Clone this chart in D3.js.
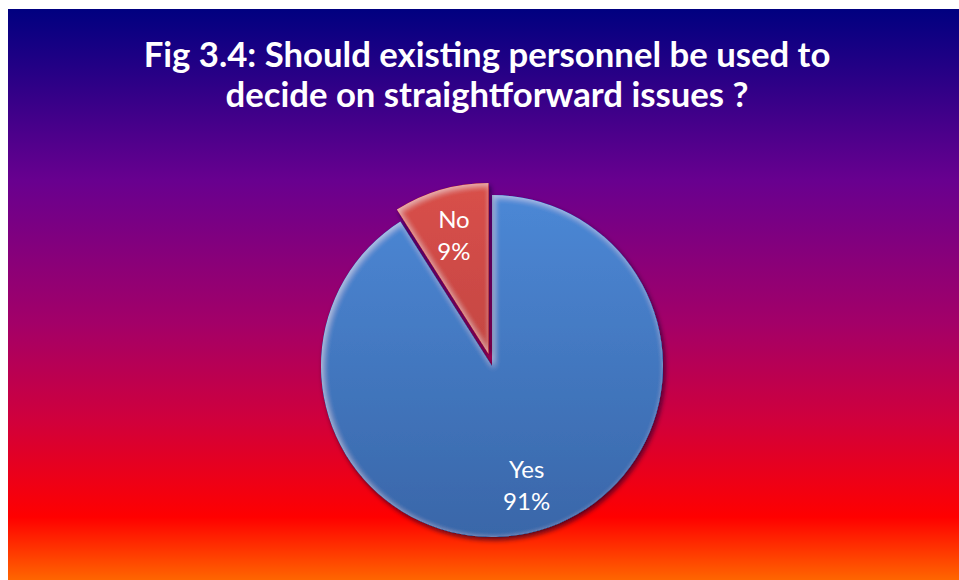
<!DOCTYPE html>
<html>
<head>
<meta charset="utf-8">
<script src="https://cdn.jsdelivr.net/npm/d3@7"></script>
<style>
  html, body { margin: 0; padding: 0; background: #ffffff; }
  svg { display: block; }
</style>
</head>
<body>
<div id="chart"></div>
<script>
// Survey answers
const categories = ["Yes", "No"];
const values = [91, 9];
const percentLabels = ["91%", "9%"];
const titleLines = [
  "Fig 3.4: Should existing personnel be used to",
  "decide on straightforward issues ?"
];

const W = 959, H = 580;
const svg = d3.select("#chart").append("svg")
  .attr("width", W).attr("height", H);

const defs = svg.append("defs");

// Background gradient: navy -> purple -> red -> orange
const bg = defs.append("linearGradient").attr("id", "bgGrad")
  .attr("x1", 0).attr("y1", 0).attr("x2", 0).attr("y2", 1);
[
  [0, "#000080"], [0.30, "#68008f"], [0.55, "#a30068"],
  [0.72, "#d0003c"], [0.89, "#ff0000"], [1, "#ff6600"]
].forEach(([o, c]) => bg.append("stop").attr("offset", o).attr("stop-color", c));

svg.append("rect")
  .attr("x", 8).attr("y", 9).attr("width", W - 8).attr("height", H - 9)
  .attr("fill", "url(#bgGrad)");

// Slice fills
const fills = {
  Yes: [["0", "#4c88d6"], ["1", "#3966a8"]],
  No: [["0", "#d9504b"], ["1", "#b03c39"]]
};
Object.entries(fills).forEach(([k, stops]) => {
  const g = defs.append("linearGradient").attr("id", "grad" + k)
    .attr("gradientUnits", "userSpaceOnUse")
    .attr("x1", 0).attr("y1", -175).attr("x2", 0).attr("y2", 175);
  stops.forEach(([o, c]) => g.append("stop").attr("offset", o).attr("stop-color", c));
});

// Soft shadow under each slice
const shadow = defs.append("filter").attr("id", "shadow")
  .attr("x", "-20%").attr("y", "-20%").attr("width", "140%").attr("height", "140%");
shadow.append("feDropShadow")
  .attr("dx", 2).attr("dy", 3).attr("stdDeviation", 2.5)
  .attr("flood-color", "#10002a").attr("flood-opacity", 0.7);

// Soft light rim along the inside of each slice edge
const bevel = defs.append("filter").attr("id", "bevel")
  .attr("x", "-10%").attr("y", "-10%").attr("width", "120%").attr("height", "120%");
bevel.append("feGaussianBlur").attr("in", "SourceAlpha").attr("stdDeviation", 3).attr("result", "blur");
bevel.append("feOffset").attr("in", "blur").attr("dx", 1.5).attr("dy", 2).attr("result", "blurOff");
bevel.append("feComposite").attr("in", "SourceAlpha").attr("in2", "blurOff")
  .attr("operator", "arithmetic").attr("k2", 1).attr("k3", -1).attr("result", "rim");
bevel.append("feFlood").attr("flood-color", "#ffffff").attr("flood-opacity", 0.45).attr("result", "white");
bevel.append("feComposite").attr("in", "white").attr("in2", "rim").attr("operator", "in").attr("result", "hl");
bevel.append("feComposite").attr("in", "hl").attr("in2", "SourceAlpha").attr("operator", "in").attr("result", "hlIn");
const merge = bevel.append("feMerge");
merge.append("feMergeNode").attr("in", "SourceGraphic");
merge.append("feMergeNode").attr("in", "hlIn");

// Title
const title = svg.append("g").attr("font-family", "Lato, 'Open Sans', sans-serif")
  .attr("font-weight", "bold").attr("fill", "#ffffff").attr("text-anchor", "middle");
const t1 = title.append("text").attr("x", 487).attr("y", 67)
  .attr("font-size", 32).text(titleLines[0]);
// size the title so the first line spans its slot
const natural = t1.node().getComputedTextLength();
const fs = 32 * 687 / natural;
t1.attr("font-size", fs);
title.append("text").attr("x", 487).attr("y", 107)
  .attr("font-size", fs).text(titleLines[1]);

// Pie
const cx = 492, cy = 366, r = 171, explode = 12.5;
const data = categories.map((c, i) => ({ cat: c, value: values[i], label: percentLabels[i] }));
const pie = d3.pie().sort(null).value(d => d.value);
const arcs = pie(data);
const arc = d3.arc().innerRadius(0).outerRadius(r);
const labelArc = d3.arc().innerRadius(124).outerRadius(124);

const g = svg.append("g").attr("transform", `translate(${cx},${cy})`);

const slices = g.selectAll("g.slice").data(arcs).join("g")
  .attr("class", "slice")
  .attr("transform", d => {
    if (d.data.cat !== "No") return null;
    const a = (d.startAngle + d.endAngle) / 2;
    return `translate(${Math.sin(a) * explode},${-Math.cos(a) * explode})`;
  });

slices.append("path")
  .attr("d", arc)
  .attr("fill", d => `url(#grad${d.data.cat})`)
  .attr("filter", "url(#shadow)");

slices.append("path")
  .attr("d", arc)
  .attr("fill", d => `url(#grad${d.data.cat})`)
  .attr("filter", "url(#bevel)");

slices.append("text")
  .attr("transform", d => {
    const [x, y] = labelArc.centroid(d);
    return `translate(${x},${y})`;
  })
  .attr("text-anchor", "middle")
  .attr("font-family", "Lato, 'Open Sans', sans-serif")
  .attr("font-size", 24)
  .attr("fill", "#ffffff")
  .selectAll("tspan")
  .data(d => [d.data.cat, d.data.label])
  .join("tspan")
  .attr("x", 0)
  .attr("y", (d, i) => i === 0 ? -7 : 25)
  .text(d => d);
</script>
</body>
</html>
